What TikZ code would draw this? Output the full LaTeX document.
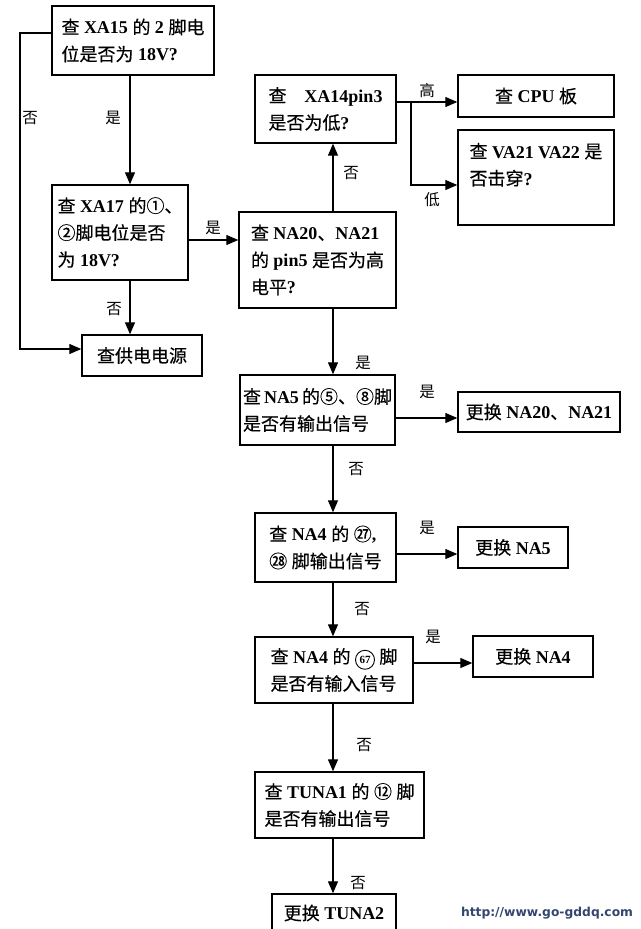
\documentclass[tikz,border=0pt]{standalone}
\usepackage{fontspec}
\setmainfont{Liberation Serif}
\newfontfamily\cjk{Noto Sans CJK SC}[FakeBold=0.35]
\newfontfamily\cjl{Noto Sans CJK SC}
\newfontfamily\wmfont{DejaVu Sans}
\usetikzlibrary{arrows.meta,calc}
\newcommand\cj[1]{{\cjk\mdseries #1}}
\newcommand\cnum[1]{\tikz[baseline=(cn.base)]\node[draw,circle,inner sep=0pt,minimum size=19pt,line width=0.9pt,font=\bfseries\fontsize{11}{11}\selectfont](cn){#1};}
\definecolor{wm}{RGB}{50,70,110}
\tikzset{
  box/.style={draw, line width=1.4pt, rectangle, inner sep=2pt, align=left, font=\bfseries\fontsize{18}{27}\selectfont},
  lbl/.style={font=\cjl\fontsize{15.5}{15.5}\selectfont, inner sep=0pt},
  arr/.style={line width=1.3pt, -{Triangle[length=12pt,width=10pt]}},
}
\begin{document}
\begin{tikzpicture}[x=1pt,y=-1pt]
\useasboundingbox (0,0) rectangle (640,929);
% boxes
\node[box, minimum width=162pt, minimum height=69pt] (b1) at (133,40.5) {\cj{查} XA15 \cj{的} 2 \cj{脚电}\\\cj{位是否为} 18V?};
\node[box, minimum width=136pt, minimum height=95pt] (b2) at (120,232.5) {\cj{查} XA17 \cj{的①、}\\\cj{②脚电位是否}\\\cj{为} 18V?};
\node[box, minimum width=120pt, minimum height=41pt] (pw) at (142,355.5) {\cj{查供电电源}};
\node[box, minimum width=157pt, minimum height=96pt] (na20) at (317.5,260) {\cj{查} NA20\cj{、}NA21\\\cj{的} pin5 \cj{是否为高}\\\cj{电平}?};
\node[box, minimum width=141pt, minimum height=68pt] (xa14) at (325.5,109) {\cj{查}\quad XA14pin3\\\cj{是否为低}?};
\node[box, minimum width=156pt, minimum height=42pt] (cpu) at (536,96) {\cj{查} CPU \cj{板}};
\node[box, minimum width=156pt, minimum height=95pt] (va) at (536,177.5) {\cj{查} VA21 VA22 \cj{是}\\\cj{否击穿}?\\\mbox{}};
\node[box, minimum width=155pt, minimum height=70pt] (na5) at (317.5,410) {\cj{查}\,NA5\,\cj{的⑤、⑧脚}\\\cj{是否有输出信号}};
\node[box, minimum width=162pt, minimum height=40pt] (gh20) at (539,412) {\cj{更换} NA20\cj{、}NA21};
\node[box, minimum width=141pt, minimum height=69pt] (na4) at (325.5,547.5) {\cj{查} NA4 \cj{的} \cj{㉗},\\\cj{㉘} \cj{脚输出信号}};
\node[box, minimum width=110pt, minimum height=41pt] (gh5) at (513,547.5) {\cj{更换} NA5};
\node[box, minimum width=158pt, minimum height=66pt] (na467) at (334,670) {\cj{查} NA4 \cj{的} \cnum{67} \cj{脚}\\\cj{是否有输入信号}};
\node[box, minimum width=120pt, minimum height=41pt] (gh4) at (533,656.5) {\cj{更换} NA4};
\node[box, minimum width=169pt, minimum height=66pt] (tu1) at (339.5,805) {\cj{查} TUNA1 \cj{的} \cj{⑫} \cj{脚}\\\cj{是否有输出信号}};
\node[box, minimum width=124pt, minimum height=38pt] (tu2) at (334,913) {\cj{更换} TUNA2};
% helper coordinates
\coordinate (lx) at (20,200);
\coordinate (xa) at (130,0);
\coordinate (xm) at (333,0);
\coordinate (xb) at (411,0);
\coordinate (y240) at (0,240);
\coordinate (y102) at (0,102);
\coordinate (y185) at (0,185);
\coordinate (y418) at (0,418);
\coordinate (y554) at (0,554);
\coordinate (y663) at (0,663);
\coordinate (y349) at (0,349);
\coordinate (y33) at (0,33);
% connectors
\draw[arr] (b1.west |- y33) -| (lx) |- (pw.west |- y349);
\draw[arr] (b1.south -| xa) -- (b2.north -| xa);
\draw[arr] (b2.south -| xa) -- (pw.north -| xa);
\draw[arr] (b2.east |- y240) -- (na20.west |- y240);
\draw[arr] (na20.north -| xm) -- (xa14.south -| xm);
\draw[arr] (xa14.east |- y102) -- (cpu.west |- y102);
\coordinate (br) at (xb |- y102);
\draw[arr] (br) |- (va.west |- y185);
\draw[arr] (na20.south -| xm) -- (na5.north -| xm);
\draw[arr] (na5.east |- y418) -- (gh20.west |- y418);
\draw[arr] (na5.south -| xm) -- (na4.north -| xm);
\draw[arr] (na4.east |- y554) -- (gh5.west |- y554);
\draw[arr] (na4.south -| xm) -- (na467.north -| xm);
\draw[arr] (na467.east |- y663) -- (gh4.west |- y663);
\draw[arr] (na467.south -| xm) -- (tu1.north -| xm);
\draw[arr] (tu1.south -| xm) -- (tu2.north -| xm);
% labels
\node[lbl] (l1) at (30,118) {否};
\node[lbl] (l2) at (113,118) {是};
\node[lbl] (l3) at (213,228) {是};
\node[lbl] (l4) at (114,309) {否};
\node[lbl] (l5) at (351,173) {否};
\node[lbl] (l6) at (427,91) {高};
\node[lbl] (l7) at (432,200) {低};
\node[lbl] (l8) at (363,363) {是};
\node[lbl] (l9) at (427,392) {是};
\node[lbl] (l10) at (356,469) {否};
\node[lbl] (l11) at (427,528) {是};
\node[lbl] (l12) at (362,609) {否};
\node[lbl] (l13) at (433,637) {是};
\node[lbl] (l14) at (364,745) {否};
\node[lbl] (l15) at (358,883) {否};
% watermark
\node[font=\wmfont\bfseries\fontsize{12.3}{13}\selectfont, text=wm, inner sep=0pt] (wmk) at (547,913) {http://www.go-gddq.com};
\end{tikzpicture}
\end{document}
